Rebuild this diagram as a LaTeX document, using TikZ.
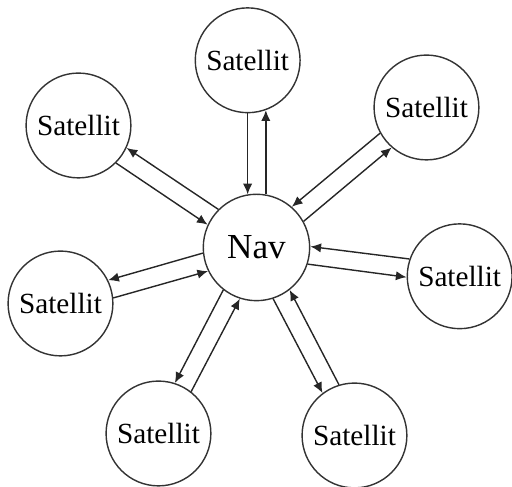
\documentclass[tikz,border=0pt]{standalone}
\usepackage{fontspec}
\setmainfont{Liberation Serif}
\usetikzlibrary{positioning,arrows.meta}

\tikzset{
  sat/.style={circle, draw=black!80, line width=0.5pt, minimum size=1.31cm,
    inner sep=0pt, font=\fontsize{10.4}{12}\selectfont},
  hub/.style={sat, minimum size=1.33cm, font=\fontsize{12.5}{15}\selectfont},
  link/.style={-{Latex[length=3.8pt,width=3.3pt]}, line width=0.5pt, draw=black!85},
}

\begin{document}
\begin{tikzpicture}[on grid]
\useasboundingbox (0,0) rectangle (6.4,6.0875);

\node[hub] (nav) at (3.206,2.994) {Nav};
% Define nodes
\node[sat, above=2.34cm of nav, xshift=-0.11cm]            (top) {Satellit};
\node[sat, above right=1.75cm and 2.125cm of nav]          (tr)  {Satellit};
\node[sat, right=2.54cm of nav, yshift=-0.36cm]            (r)   {Satellit};
\node[sat, below right=2.35cm and 1.225cm of nav]          (br)  {Satellit};
\node[sat, below left=2.325cm and 1.225cm of nav]          (bl)  {Satellit};
\node[sat, left=2.45cm of nav, yshift=-0.7cm]              (l)   {Satellit};
\node[sat, above left=1.525cm and 2.225cm of nav]          (tl)  {Satellit};

% Connect the nodes
\draw[link] (top.south) -- (top.south |- nav.100);
\draw[link] (nav.80) -- (nav.80 |- top.290);
\draw[link] (tr.209.5) -- (nav.49.5);
\draw[link] (nav.29.5) -- (tr.229.5);
\draw[link] (r.161.9) -- (nav.1.9);
\draw[link] (nav.-18.1) -- (r.181.9);
\draw[link] (br.107.5) -- (nav.-52.5);
\draw[link] (nav.-72.5) -- (br.127.5);
\draw[link] (bl.52.2) -- (nav.252.2);
\draw[link] (nav.232.2) -- (bl.72.2);
\draw[link] (l.6) -- (nav.206);
\draw[link] (nav.186) -- (l.26);
\draw[link] (tl.315.6) -- (nav.155.6);
\draw[link] (nav.135.6) -- (tl.335.6);

\end{tikzpicture}
\end{document}
